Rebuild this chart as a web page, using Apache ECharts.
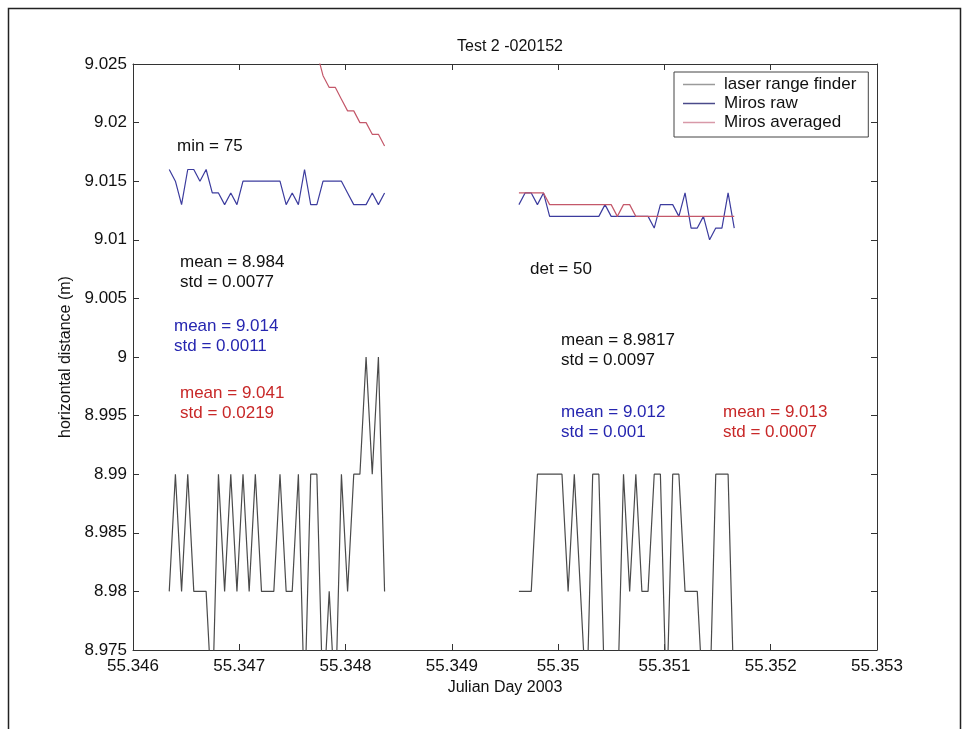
<!DOCTYPE html>
<html>
<head>
<meta charset="utf-8">
<title>Test 2 -020152</title>
<script src="https://cdn.jsdelivr.net/npm/echarts@6/dist/echarts.min.js"></script>
<style>
  html, body { margin: 0; padding: 0; background: #fff; }
  #main { width: 969px; height: 729px; }
</style>
</head>
<body>
<div id="main"></div>
<script>
// julian day of each sample (5 s sampling), first block
var timeA = [55.346341, 55.346399, 55.346457, 55.346515, 55.346572, 55.346630,
    55.346688, 55.346746, 55.346804, 55.346862, 55.346920, 55.346978,
    55.347035, 55.347093, 55.347151, 55.347209, 55.347267, 55.347325,
    55.347383, 55.347441, 55.347498, 55.347556, 55.347614, 55.347672,
    55.347730, 55.347788, 55.347846, 55.347904, 55.347961, 55.348019,
    55.348077, 55.348135, 55.348193, 55.348251, 55.348309, 55.348367];
// second block
var timeB = [55.349631, 55.349689, 55.349747, 55.349805, 55.349862, 55.349920,
    55.349978, 55.350036, 55.350094, 55.350152, 55.350210, 55.350268,
    55.350325, 55.350383, 55.350441, 55.350499, 55.350557, 55.350615,
    55.350673, 55.350731, 55.350788, 55.350846, 55.350904, 55.350962,
    55.351020, 55.351078, 55.351136, 55.351194, 55.351251, 55.351309,
    55.351367, 55.351425, 55.351483, 55.351541, 55.351599, 55.351657];

// laser range finder (m)
var laserA = [8.98, 8.99, 8.98, 8.99, 8.98, 8.98, 8.98, 8.97, 8.99, 8.98, 8.99, 8.98,
    8.99, 8.98, 8.99, 8.98, 8.98, 8.98, 8.99, 8.98, 8.98, 8.99, 8.97, 8.99,
    8.99, 8.97, 8.98, 8.97, 8.99, 8.98, 8.99, 8.99, 9.00, 8.99, 9.00, 8.98];
var laserB = [8.98, 8.98, 8.98, 8.99, 8.99, 8.99, 8.99, 8.99, 8.98, 8.99, 8.98, 8.97,
    8.99, 8.99, 8.97, 8.97, 8.97, 8.99, 8.98, 8.99, 8.98, 8.98, 8.99, 8.99,
    8.97, 8.99, 8.99, 8.98, 8.98, 8.98, 8.97, 8.97, 8.99, 8.99, 8.99, 8.97];

// Miros raw (m)
var rawA = [9.016, 9.015, 9.013, 9.016, 9.016, 9.015, 9.016, 9.014, 9.014, 9.013, 9.014, 9.013,
    9.015, 9.015, 9.015, 9.015, 9.015, 9.015, 9.015, 9.013, 9.014, 9.013, 9.016, 9.013,
    9.013, 9.015, 9.015, 9.015, 9.015, 9.014, 9.013, 9.013, 9.013, 9.014, 9.013, 9.014];
var rawB = [9.013, 9.014, 9.014, 9.013, 9.014, 9.012, 9.012, 9.012, 9.012, 9.012, 9.012, 9.012,
    9.012, 9.012, 9.013, 9.012, 9.012, 9.012, 9.012, 9.012, 9.012, 9.012, 9.011, 9.013,
    9.013, 9.013, 9.012, 9.014, 9.011, 9.011, 9.012, 9.010, 9.011, 9.011, 9.014, 9.011];

// Miros averaged (m) - start of first block is above the plotted range
var avgA = [9.100, 9.090, 9.082, 9.076, 9.071, 9.066, 9.062, 9.058, 9.055, 9.052, 9.049, 9.047,
    9.044, 9.042, 9.040, 9.038, 9.037, 9.035, 9.034, 9.032, 9.031, 9.029, 9.028, 9.027,
    9.026, 9.024, 9.023, 9.023, 9.022, 9.021, 9.021, 9.020, 9.020, 9.019, 9.019, 9.018];
var avgB = [9.014, 9.014, 9.014, 9.014, 9.014, 9.013, 9.013, 9.013, 9.013, 9.013, 9.013, 9.013,
    9.013, 9.013, 9.013, 9.013, 9.012, 9.013, 9.013, 9.012, 9.012, 9.012, 9.012, 9.012,
    9.012, 9.012, 9.012, 9.012, 9.012, 9.012, 9.012, 9.012, 9.012, 9.012, 9.012, 9.012];

var seriesNames = ['laser range finder', 'Miros raw', 'Miros averaged'];

var FONT = 'Liberation Sans, Arial, Helvetica, sans-serif';
var cBlack = '#4a4a4a', cBlue = '#3c3c9e', cRed = '#c4586a';
// legend swatches look paler in the original
var legendColors = ['#9a9a9a', '#4a4a8a', '#d899a8'];

function pairs(t, v) {
    return t.map(function (x, i) { return [x, v[i]]; });
}
function trim(v) {
    return String(parseFloat(v.toFixed(3)));
}
function mkLine(name, t, v, color) {
    return {
        name: name,
        type: 'line',
        data: pairs(t, v),
        symbol: 'none',
        clip: true,
        animation: false,
        lineStyle: { color: color, width: 1.2 },
        itemStyle: { color: color }
    };
}

var chart = echarts.init(document.getElementById('main'), null, { renderer: 'canvas' });

var xBase = {
    type: 'value', min: 55.346, max: 55.353, interval: 0.001,
    axisLine: { lineStyle: { color: '#333', width: 1 } },
    axisTick: { inside: true, length: 6, lineStyle: { color: '#333' } },
    splitLine: { show: false }
};
var yBase = {
    type: 'value', min: 8.975, max: 9.025, interval: 0.005,
    axisLine: { lineStyle: { color: '#333', width: 1 } },
    axisTick: { inside: true, length: 6, lineStyle: { color: '#333' } },
    splitLine: { show: false }
};

var option = {
    backgroundColor: '#fff',
    animation: false,
    title: {
        text: 'Test 2 -020152',
        left: 505, top: 34, textAlign: 'center',
        textStyle: { fontFamily: FONT, fontSize: 16, fontWeight: 'normal', color: '#111' }
    },
    grid: { left: 133, right: 92, top: 64, bottom: 79 },
    legend: {
        data: seriesNames.map(function (n, i) {
            return { name: n, icon: 'rect', itemStyle: { color: legendColors[i] } };
        }),
        orient: 'vertical',
        left: 674, top: 72,
        padding: [4, 12, 6, 9],
        itemWidth: 32, itemHeight: 1.5, itemGap: 2,
        backgroundColor: '#fff',
        borderColor: '#444', borderWidth: 1, borderRadius: 0,
        textStyle: { fontFamily: FONT, fontSize: 17, color: '#111', lineHeight: 17, padding: [0, 0, 0, 4] }
    },
    xAxis: [
        Object.assign({}, xBase, {
            position: 'bottom',
            name: 'Julian Day 2003', nameLocation: 'middle', nameGap: 29,
            nameTextStyle: { fontFamily: FONT, fontSize: 16, color: '#111' },
            axisLabel: { margin: 8, fontFamily: FONT, fontSize: 17, color: '#111', formatter: trim }
        }),
        Object.assign({}, xBase, { position: 'top', axisLabel: { show: false } })
    ],
    yAxis: [
        Object.assign({}, yBase, {
            position: 'left',
            name: 'horizontal distance (m)', nameLocation: 'middle', nameGap: 56,
            nameTextStyle: { fontFamily: FONT, fontSize: 16, color: '#111' },
            axisLabel: { margin: 6, fontFamily: FONT, fontSize: 17, color: '#111', formatter: trim }
        }),
        Object.assign({}, yBase, { position: 'right', axisLabel: { show: false } })
    ],
    series: [
        mkLine(seriesNames[0], timeA, laserA, cBlack),
        mkLine(seriesNames[1], timeA, rawA, cBlue),
        mkLine(seriesNames[2], timeA, avgA, cRed),
        mkLine(seriesNames[0], timeB, laserB, cBlack),
        mkLine(seriesNames[1], timeB, rawB, cBlue),
        mkLine(seriesNames[2], timeB, avgB, cRed)
    ],
    graphic: [
        // figure frame
        { type: 'rect', silent: true, shape: { x: 8.5, y: 8.5, width: 952, height: 760 },
          style: { fill: 'none', stroke: '#222', lineWidth: 1.5 } },
        // statistics notes
        { type: 'text', left: 177, top: 138, style: { text: 'min = 75', font: '17px ' + FONT, fill: '#111' } },
        { type: 'text', left: 180, top: 252, style: { text: 'mean = 8.984\nstd = 0.0077', font: '17px ' + FONT, fill: '#111', lineHeight: 20 } },
        { type: 'text', left: 174, top: 316, style: { text: 'mean = 9.014\nstd = 0.0011', font: '17px ' + FONT, fill: '#2626b0', lineHeight: 20 } },
        { type: 'text', left: 180, top: 383, style: { text: 'mean = 9.041\nstd = 0.0219', font: '17px ' + FONT, fill: '#c82828', lineHeight: 20 } },
        { type: 'text', left: 530, top: 261, style: { text: 'det = 50', font: '17px ' + FONT, fill: '#111' } },
        { type: 'text', left: 561, top: 330, style: { text: 'mean = 8.9817\nstd = 0.0097', font: '17px ' + FONT, fill: '#111', lineHeight: 20 } },
        { type: 'text', left: 561, top: 402, style: { text: 'mean = 9.012\nstd = 0.001', font: '17px ' + FONT, fill: '#2626b0', lineHeight: 20 } },
        { type: 'text', left: 723, top: 402, style: { text: 'mean = 9.013\nstd = 0.0007', font: '17px ' + FONT, fill: '#c82828', lineHeight: 20 } }
    ]
};

chart.setOption(option);
</script>
</body>
</html>
